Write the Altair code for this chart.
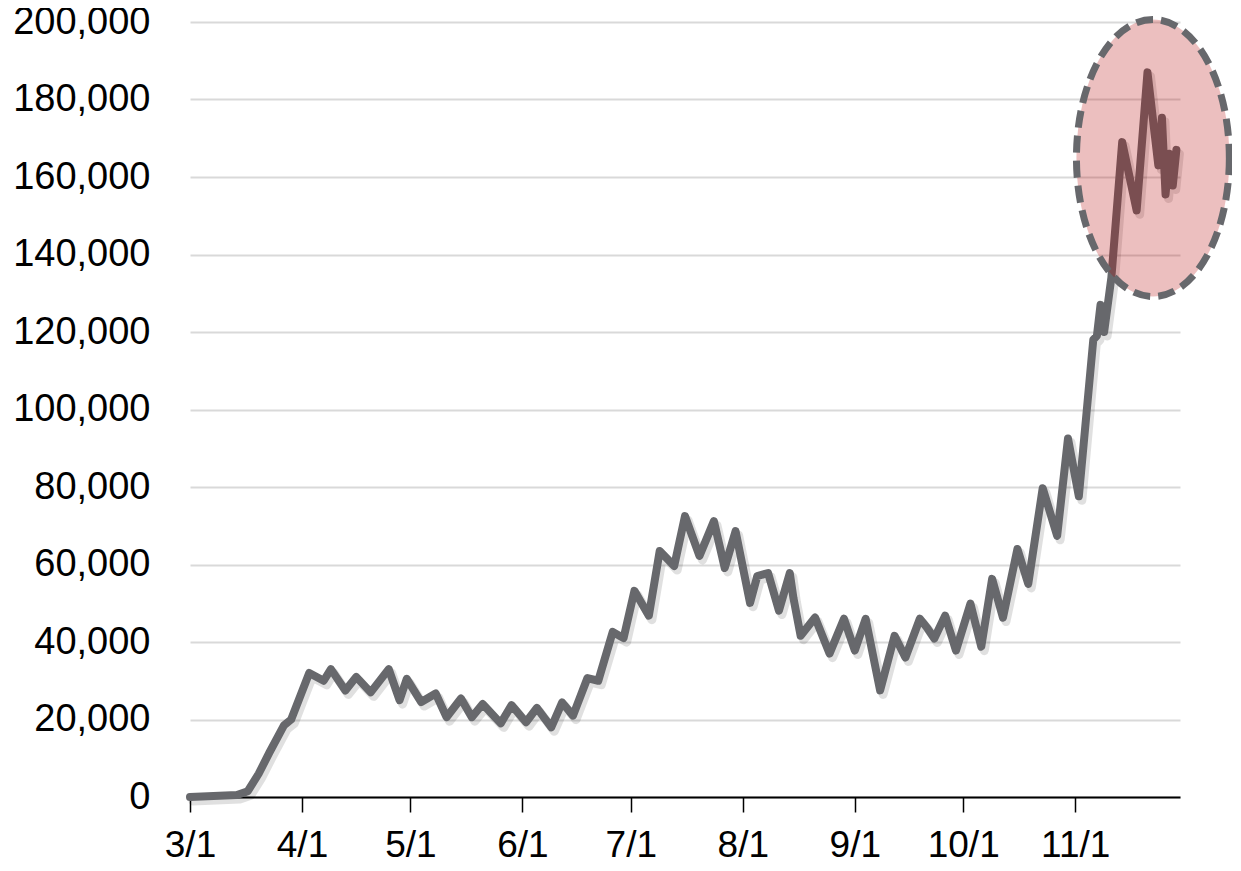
import altair as alt
import pandas as pd

# Daily new cases (turning points)
dates = [
    "2020-03-01", "2020-03-14", "2020-03-17", "2020-03-20", "2020-03-23", "2020-03-27",
    "2020-03-29", "2020-04-03", "2020-04-07", "2020-04-09", "2020-04-13", "2020-04-16",
    "2020-04-20", "2020-04-25", "2020-04-28", "2020-04-30", "2020-05-04", "2020-05-08",
    "2020-05-11", "2020-05-15", "2020-05-18", "2020-05-21", "2020-05-26", "2020-05-29",
    "2020-06-02", "2020-06-05", "2020-06-09", "2020-06-12", "2020-06-15", "2020-06-19",
    "2020-06-22", "2020-06-26", "2020-06-29", "2020-07-02", "2020-07-06", "2020-07-09",
    "2020-07-13", "2020-07-16", "2020-07-20", "2020-07-24", "2020-07-27", "2020-07-30",
    "2020-08-03", "2020-08-05", "2020-08-08", "2020-08-11", "2020-08-14", "2020-08-15",
    "2020-08-17", "2020-08-21", "2020-08-25", "2020-08-29", "2020-09-01", "2020-09-04",
    "2020-09-08", "2020-09-12", "2020-09-15", "2020-09-19", "2020-09-21", "2020-09-23",
    "2020-09-26", "2020-09-29", "2020-10-03", "2020-10-06", "2020-10-09", "2020-10-12",
    "2020-10-16", "2020-10-19", "2020-10-23", "2020-10-27", "2020-10-30", "2020-11-02",
    "2020-11-06", "2020-11-07", "2020-11-08", "2020-11-09", "2020-11-11", "2020-11-14",
    "2020-11-18", "2020-11-21", "2020-11-24", "2020-11-25", "2020-11-26", "2020-11-27",
    "2020-11-28", "2020-11-29",
]
cases = [
    0, 500, 1500, 6000, 11500, 18500,
    20000, 32000, 30000, 33000, 27500, 31000,
    27000, 33000, 25000, 30500, 24500, 26700,
    20600, 25400, 20600, 24000, 19000, 23700,
    19300, 23000, 18000, 24400, 21000, 30700,
    30000, 42600, 41000, 53200, 46800, 63500,
    59600, 72500, 62200, 71200, 59100, 68600,
    50100, 57000, 57800, 48100, 57800, 51400,
    41600, 46300, 37000, 46000, 37800, 46000,
    27500, 41600, 36000, 46000, 43700, 40900,
    46800, 37800, 49900, 38800, 56300, 46300,
    64000, 55000, 79700, 67400, 92500, 77600,
    118000, 119000, 127000, 120000, 134000, 169000,
    151400, 187000, 163000, 175300, 155500, 166000,
    157800, 167000,
]

# Highlight ellipse around the November peak
highlight_date = ["2020-11-22T12:00:00"]
highlight_value = [164900]

y_ticks = list(range(0, 200001, 20000))
x_tick_months = [3, 4, 5, 6, 7, 8, 9, 10, 11]

df = pd.DataFrame({"date": pd.to_datetime(dates), "cases": cases})
hl = pd.DataFrame({"date": pd.to_datetime(highlight_date), "cases": highlight_value})

FONT = "Liberation Sans, Arial, sans-serif"

x_scale = alt.Scale(domain=[alt.DateTime(year=2020, month=3, date=1),
                            alt.DateTime(year=2020, month=11, date=30)])
y_scale = alt.Scale(domain=[0, 200000])

x_enc = alt.X("date:T", scale=x_scale, title=None,
              axis=alt.Axis(values=[alt.DateTime(year=2020, month=m, date=1) for m in x_tick_months],
                            format="%-m/%-d", grid=False, domain=True, domainColor="#000000",
                            domainWidth=2, ticks=True, tickColor="#000000", tickWidth=1.5,
                            tickSize=15, labelPadding=15, labelFontSize=37, labelFont=FONT,
                            labelColor="#000000", labelAlign="center", labelBaseline="top",
                            labelFlush=False, labelOverlap=False))
y_enc = alt.Y("cases:Q", scale=y_scale, title=None,
              axis=alt.Axis(values=y_ticks, format=",d", grid=True, gridColor="#d9d9d9",
                            gridWidth=2, domain=False, ticks=False, labelPadding=40,
                            labelFontSize=38, labelFont=FONT, labelColor="#000000",
                            labelFlush=False, labelOverlap=False))

shadow = alt.Chart(df).mark_line(color="#000000", opacity=0.12, strokeWidth=9,
                                 xOffset=3, yOffset=4, strokeJoin="round",
                                 strokeCap="round").encode(x=x_enc, y=y_enc)
line = alt.Chart(df).mark_line(color="#67686c", strokeWidth=8, strokeJoin="round",
                               strokeCap="round").encode(x=x_enc, y=y_enc)

ellipse_path = ("M0.552,0 C0.552,0.5523 0.3049,1 0,1 C-0.3049,1 -0.552,0.5523 -0.552,0 "
                "C-0.552,-0.5523 -0.3049,-1 0,-1 C0.3049,-1 0.552,-0.5523 0.552,0 Z")
ellipse = alt.Chart(hl).mark_point(shape=ellipse_path, size=76729, filled=True,
                                   fill="#b30000", fillOpacity=0.25, stroke="#67686c",
                                   strokeOpacity=1, strokeWidth=7, strokeDash=[17, 8],
                                   opacity=1).encode(x=x_enc, y=y_enc)

chart = alt.layer(shadow, line, ellipse).properties(
    width=990, height=775,
    autosize=alt.AutoSizeParams(type="none"),
    padding={"left": 182, "top": 14, "right": 52, "bottom": 66},
).configure_view(strokeWidth=0, stroke="transparent")

chart.save("out.html", embed_options={"renderer": "svg", "actions": False})
